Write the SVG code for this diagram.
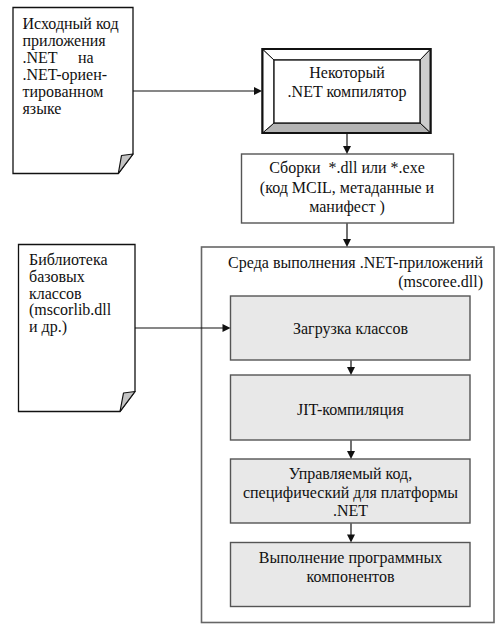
<svg xmlns="http://www.w3.org/2000/svg" width="502" height="634" viewBox="0 0 502 634">
<style>
text{font-family:"Liberation Serif","Times New Roman",serif;font-size:16px;fill:#111}
.c{text-anchor:middle}
.r{text-anchor:end}
.doc{fill:#fff;stroke:#111;stroke-width:1.3}
.fold{fill:#c4c4c4;stroke:#111;stroke-width:1.2;stroke-linejoin:round}
.step{fill:#e8e8e8;stroke:#555;stroke-width:1.4}
.ln{stroke:#111;stroke-width:1.2;fill:none}
.ah{fill:#111;stroke:none}
</style>
<rect width="502" height="634" fill="#fff"/>
<g id="runtime">
<rect x="201.5" y="247" width="292.5" height="375.5" fill="#fff" stroke="#666" stroke-width="1.6"/>
<text class="r" x="483" y="268">Среда выполнения .NET-приложений</text>
<text class="r" x="483" y="287">(mscoree.dll)</text>
</g>
<g id="source-doc">
<path class="doc" d="M13,7.5 H133 V154 L118.3,173.5 H13 Z"/>
<path class="fold" d="M133,154 L121.5,155.5 L118.3,173.5 Z"/>
<text x="22.5" y="29">Исходный код</text>
<text x="22.5" y="46">приложения</text>
<text x="22.5" y="63">.NET</text>
<text x="78" y="63">на</text>
<text x="22.5" y="80">.NET-ориен-</text>
<text x="22.5" y="97">тированном</text>
<text x="22.5" y="114">языке</text>
</g>
<g id="compiler">
<rect x="262.5" y="49" width="168" height="84" fill="#fff" stroke="#111" stroke-width="2"/>
<polygon points="430.5,49 430.5,133 420,123 420,60" fill="#cdcdcd" stroke="#111" stroke-width="1"/>
<polygon points="262.5,133 430.5,133 420,123 274,123" fill="#b4b4b4" stroke="#111" stroke-width="1"/>
<polygon points="262.5,49 274,60 274,123 262.5,133" fill="#fff" stroke="#111" stroke-width="1"/>
<polygon points="262.5,49 430.5,49 420,60 274,60" fill="#fff" stroke="#111" stroke-width="1"/>
<rect x="262.5" y="49" width="168" height="84" fill="none" stroke="#111" stroke-width="2"/>
<rect x="274" y="60" width="146" height="63" fill="#fff" stroke="#111" stroke-width="1.3"/>
<text class="c" x="347" y="78">Некоторый</text>
<text class="c" x="347" y="97">.NET компилятор</text>
</g>
<g id="assemblies">
<rect x="241.5" y="154" width="212" height="69" fill="#fff" stroke="#555" stroke-width="1.4"/>
<text class="c" x="347" y="173" xml:space="preserve">Сборки  *.dll или *.exe</text>
<text class="c" x="347" y="193">(код MCIL, метаданные и</text>
<text class="c" x="347" y="212">манифест )</text>
</g>
<g id="library-doc">
<path class="doc" d="M18.5,244.5 H135 V391.5 L120,411.5 H18.5 Z"/>
<path class="fold" d="M135,391.5 L123.5,393 L120,411.5 Z"/>
<text x="29" y="265">Библиотека</text>
<text x="29" y="282">базовых</text>
<text x="29" y="298.5">классов</text>
<text x="29" y="315">(mscorlib.dll</text>
<text x="29" y="332">и др.)</text>
</g>
<g id="class-loading">
<rect class="step" x="230.5" y="296" width="239.5" height="64"/>
<text class="c" x="350.5" y="334">Загрузка классов</text>
</g>
<g id="jit">
<rect class="step" x="230.5" y="375" width="239.5" height="65"/>
<text class="c" x="350.5" y="415">JIT-компиляция</text>
</g>
<g id="managed-code">
<rect class="step" x="230.5" y="459" width="239.5" height="64"/>
<text class="c" x="350.5" y="479">Управляемый код,</text>
<text class="c" x="350.5" y="498">специфический для платформы</text>
<text class="c" x="350.5" y="516">.NET</text>
</g>
<g id="execution">
<rect class="step" x="230.5" y="542.5" width="239.5" height="64"/>
<text class="c" x="350.5" y="563">Выполнение программных</text>
<text class="c" x="350.5" y="582">компонентов</text>
</g>
<g id="connectors">
<path class="ln" d="M133,91 H256"/>
<polygon class="ah" points="254,87 262,91 254,95"/>
<path class="ln" d="M347,134 V148"/>
<polygon class="ah" points="343,146 351,146 347,154"/>
<path class="ln" d="M347,223.5 V241"/>
<polygon class="ah" points="343,239 351,239 347,247"/>
<path class="ln" d="M135,328 H224"/>
<polygon class="ah" points="222.5,324 230.5,328 222.5,332"/>
<path class="ln" d="M351,360.5 V369"/>
<polygon class="ah" points="347,367 355,367 351,375"/>
<path class="ln" d="M351,440.5 V453"/>
<polygon class="ah" points="347,451 355,451 351,459"/>
<path class="ln" d="M351,523.5 V536"/>
<polygon class="ah" points="347,534.5 355,534.5 351,542.5"/>
</g>
</svg>
